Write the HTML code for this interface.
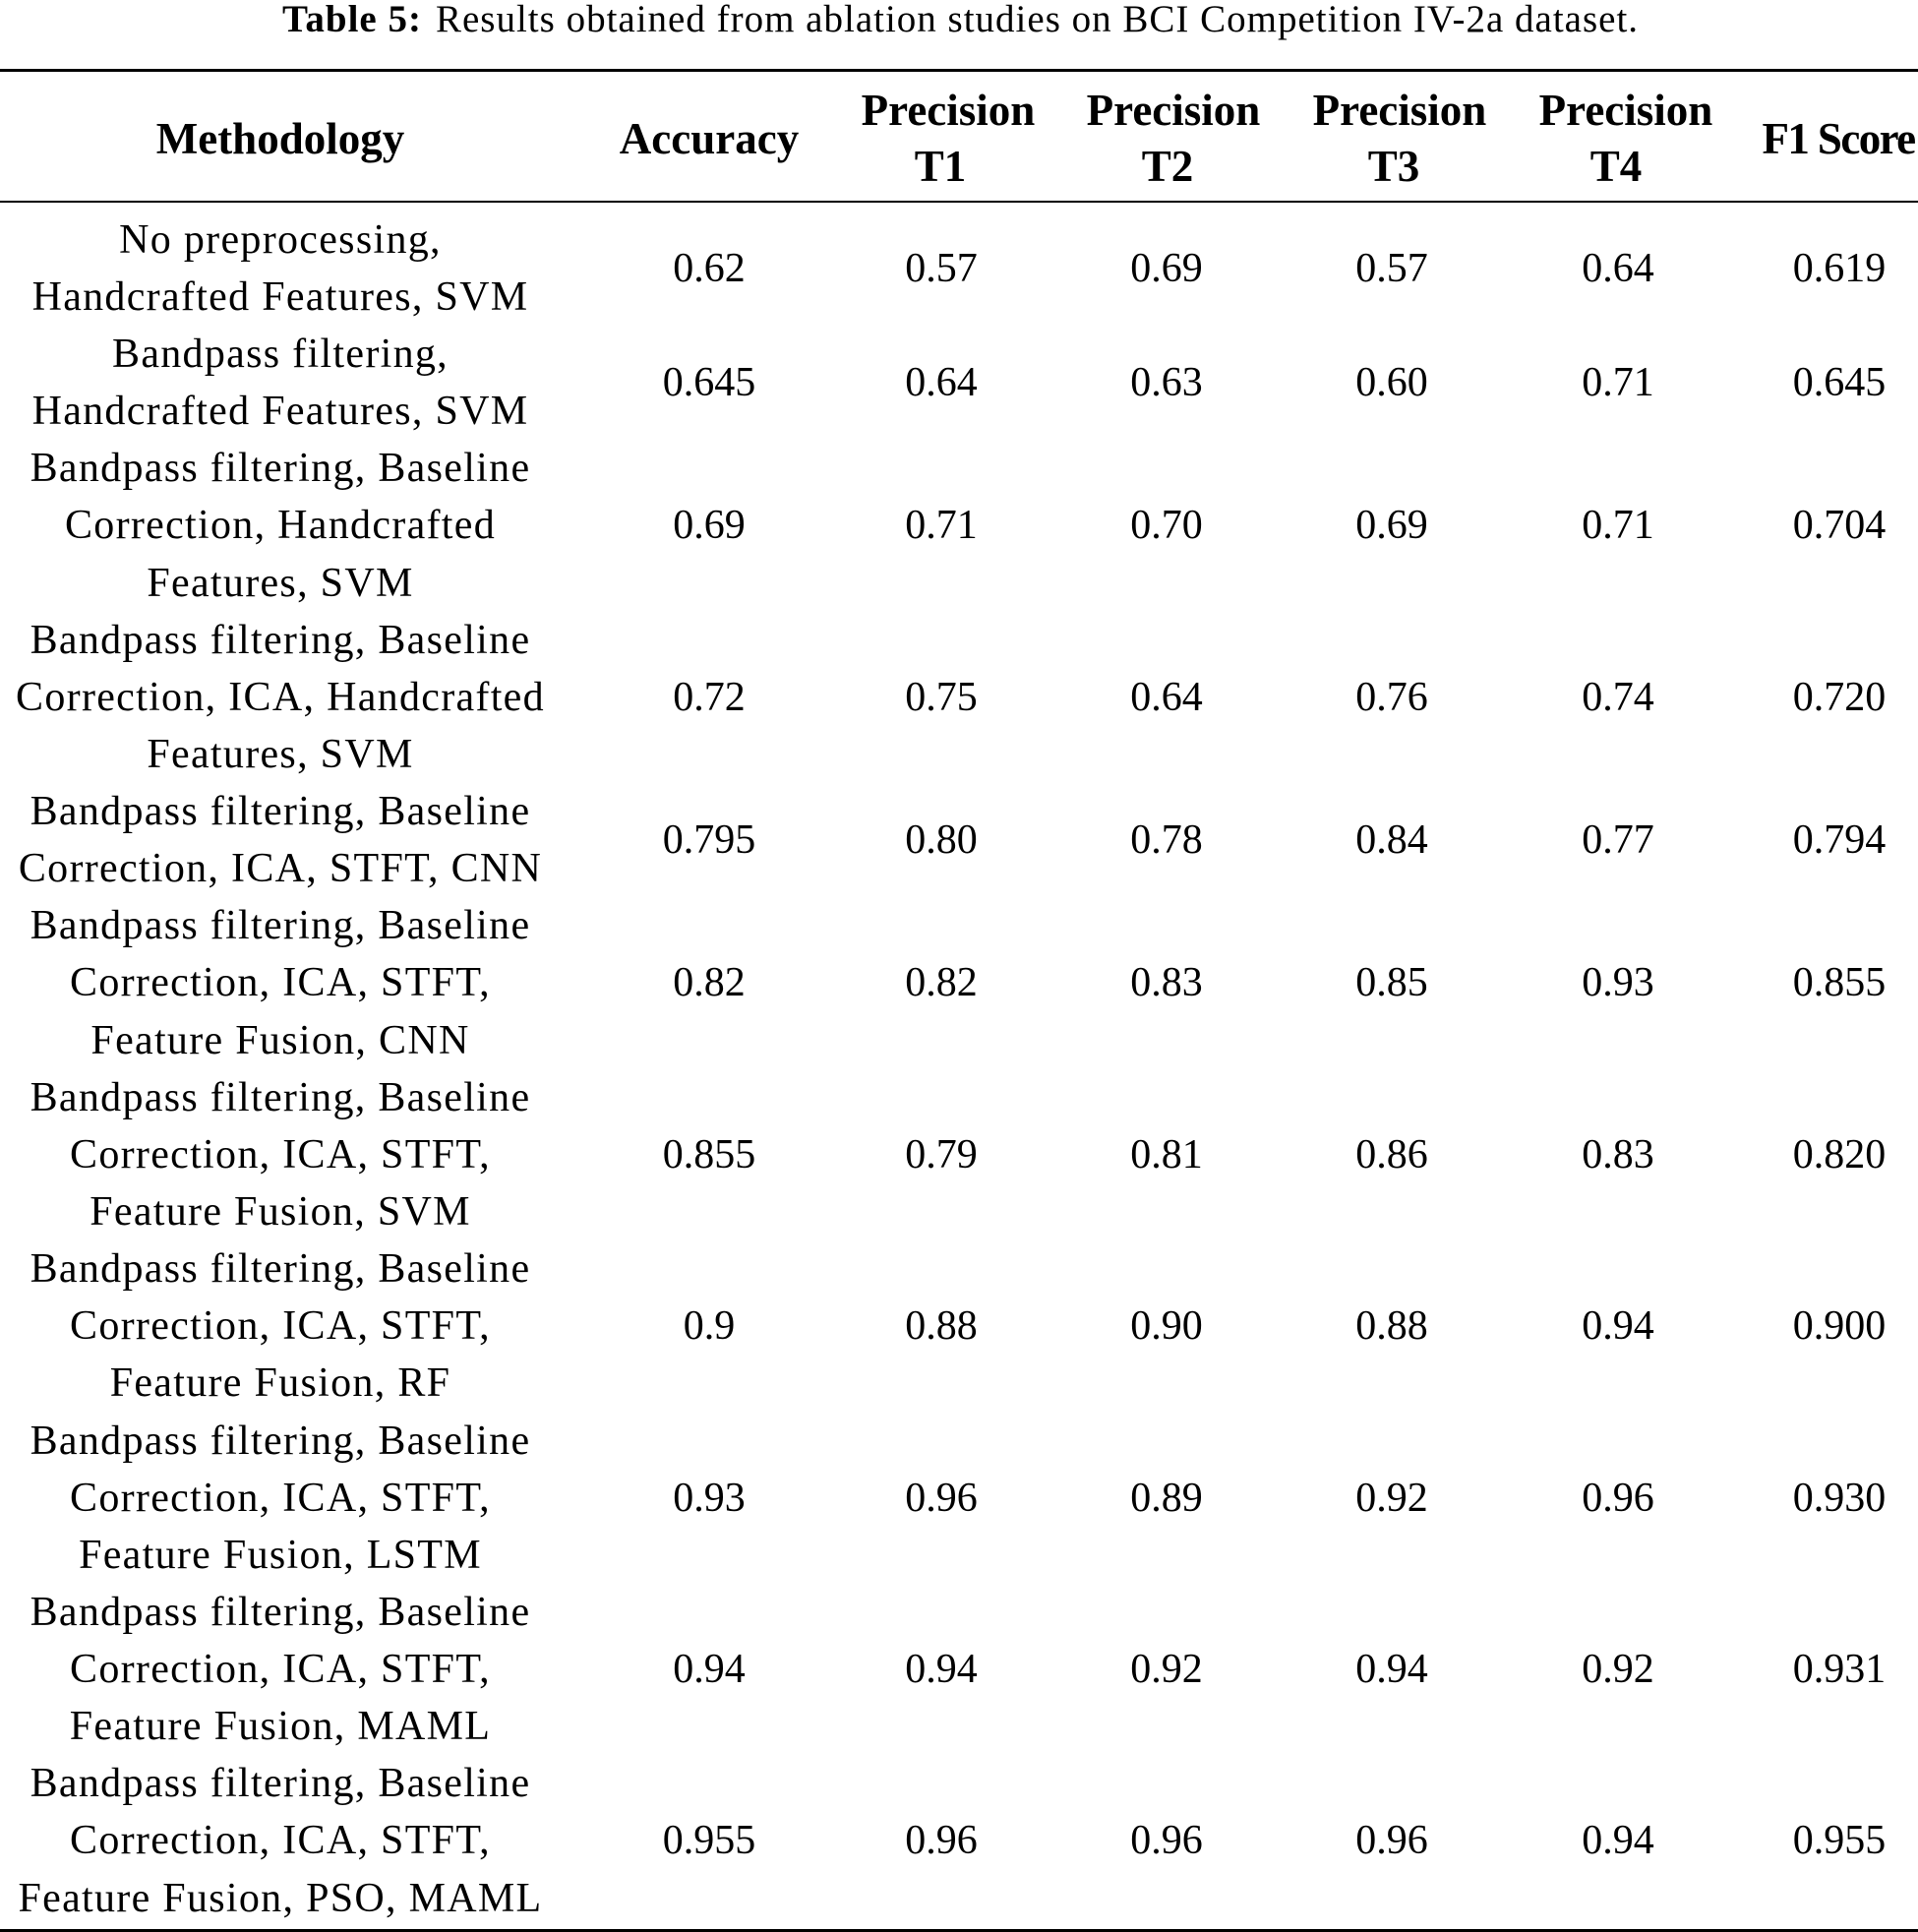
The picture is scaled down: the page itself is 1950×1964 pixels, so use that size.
<!DOCTYPE html>
<html>
<head>
<meta charset="utf-8">
<style>
  html, body { margin:0; padding:0; background:#fff; }
  body { width:1950px; height:1964px; position:relative; overflow:hidden;
         font-family:"Liberation Serif", "DejaVu Serif", serif; color:#000; }
  .title { position:absolute; left:0; width:1953px; top:0px; height:40px; line-height:40px;
           font-size:39px; text-align:center; white-space:nowrap; letter-spacing:1.0px; }
  .title b { margin-right:14px; }
  .rule { position:absolute; left:0; width:1950px; background:#000; height:2.5px; }
  .h { position:absolute; font-weight:bold; font-size:45px; line-height:57px; height:57px;
       text-align:center; white-space:nowrap; width:400px; }
  .row { position:absolute; left:0; width:1950px; }
  .m { position:absolute; left:-15px; width:600px; top:0; text-align:center;
       font-size:42px; line-height:58.13px; white-space:nowrap; letter-spacing:1.3px; }
  .v { position:absolute; top:0; width:300px; text-align:center; font-size:42px; white-space:nowrap; }
  .r2 .v { line-height:116.26px; }
  .r3 .v { line-height:174.39px; }
  .c1 { left:571px; }
  .c2 { left:807px; }
  .c3 { left:1036px; }
  .c4 { left:1265px; }
  .c5 { left:1495px; }
  .c6 { left:1720px; }
</style>
</head>
<body>

<div class="title"><b>Table 5:</b>Results obtained from ablation studies on BCI Competition IV-2a dataset.</div>

<div class="rule" style="top:70.3px;"></div>

<!-- header -->
<div class="h" style="left:85px; top:112.5px;">Methodology</div>
<div class="h" style="left:521px; top:112.5px;">Accuracy</div>
<div class="h" style="left:764px; top:83.5px;">Precision</div>
<div class="h" style="left:756px; top:140.5px;">T1</div>
<div class="h" style="left:993px; top:83.5px;">Precision</div>
<div class="h" style="left:987px; top:140.5px;">T2</div>
<div class="h" style="left:1223px; top:83.5px;">Precision</div>
<div class="h" style="left:1217px; top:140.5px;">T3</div>
<div class="h" style="left:1453px; top:83.5px;">Precision</div>
<div class="h" style="left:1443px; top:140.5px;">T4</div>
<div class="h" style="left:1669px; top:112.5px; letter-spacing:-1.6px;">F1 Score</div>

<div class="rule" style="top:203.8px;"></div>

<!-- rows -->
<div class="row r2" style="top:214.8px; height:116.26px;">
  <div class="m">No preprocessing,<br>Handcrafted Features, SVM</div>
  <div class="v c1">0.62</div>
  <div class="v c2">0.57</div>
  <div class="v c3">0.69</div>
  <div class="v c4">0.57</div>
  <div class="v c5">0.64</div>
  <div class="v c6">0.619</div>
</div>

<div class="row r2" style="top:331.06px; height:116.26px;">
  <div class="m">Bandpass filtering,<br>Handcrafted Features, SVM</div>
  <div class="v c1">0.645</div>
  <div class="v c2">0.64</div>
  <div class="v c3">0.63</div>
  <div class="v c4">0.60</div>
  <div class="v c5">0.71</div>
  <div class="v c6">0.645</div>
</div>

<div class="row r3" style="top:447.32px; height:174.39px;">
  <div class="m">Bandpass filtering, Baseline<br>Correction, Handcrafted<br>Features, SVM</div>
  <div class="v c1">0.69</div>
  <div class="v c2">0.71</div>
  <div class="v c3">0.70</div>
  <div class="v c4">0.69</div>
  <div class="v c5">0.71</div>
  <div class="v c6">0.704</div>
</div>

<div class="row r3" style="top:621.71px; height:174.39px;">
  <div class="m">Bandpass filtering, Baseline<br>Correction, ICA, Handcrafted<br>Features, SVM</div>
  <div class="v c1">0.72</div>
  <div class="v c2">0.75</div>
  <div class="v c3">0.64</div>
  <div class="v c4">0.76</div>
  <div class="v c5">0.74</div>
  <div class="v c6">0.720</div>
</div>

<div class="row r2" style="top:796.1px; height:116.26px;">
  <div class="m">Bandpass filtering, Baseline<br>Correction, ICA, STFT, CNN</div>
  <div class="v c1">0.795</div>
  <div class="v c2">0.80</div>
  <div class="v c3">0.78</div>
  <div class="v c4">0.84</div>
  <div class="v c5">0.77</div>
  <div class="v c6">0.794</div>
</div>

<div class="row r3" style="top:912.36px; height:174.39px;">
  <div class="m">Bandpass filtering, Baseline<br>Correction, ICA, STFT,<br>Feature Fusion, CNN</div>
  <div class="v c1">0.82</div>
  <div class="v c2">0.82</div>
  <div class="v c3">0.83</div>
  <div class="v c4">0.85</div>
  <div class="v c5">0.93</div>
  <div class="v c6">0.855</div>
</div>

<div class="row r3" style="top:1086.75px; height:174.39px;">
  <div class="m">Bandpass filtering, Baseline<br>Correction, ICA, STFT,<br>Feature Fusion, SVM</div>
  <div class="v c1">0.855</div>
  <div class="v c2">0.79</div>
  <div class="v c3">0.81</div>
  <div class="v c4">0.86</div>
  <div class="v c5">0.83</div>
  <div class="v c6">0.820</div>
</div>

<div class="row r3" style="top:1261.14px; height:174.39px;">
  <div class="m">Bandpass filtering, Baseline<br>Correction, ICA, STFT,<br>Feature Fusion, RF</div>
  <div class="v c1">0.9</div>
  <div class="v c2">0.88</div>
  <div class="v c3">0.90</div>
  <div class="v c4">0.88</div>
  <div class="v c5">0.94</div>
  <div class="v c6">0.900</div>
</div>

<div class="row r3" style="top:1435.53px; height:174.39px;">
  <div class="m">Bandpass filtering, Baseline<br>Correction, ICA, STFT,<br>Feature Fusion, LSTM</div>
  <div class="v c1">0.93</div>
  <div class="v c2">0.96</div>
  <div class="v c3">0.89</div>
  <div class="v c4">0.92</div>
  <div class="v c5">0.96</div>
  <div class="v c6">0.930</div>
</div>

<div class="row r3" style="top:1609.92px; height:174.39px;">
  <div class="m">Bandpass filtering, Baseline<br>Correction, ICA, STFT,<br>Feature Fusion, MAML</div>
  <div class="v c1">0.94</div>
  <div class="v c2">0.94</div>
  <div class="v c3">0.92</div>
  <div class="v c4">0.94</div>
  <div class="v c5">0.92</div>
  <div class="v c6">0.931</div>
</div>

<div class="row r3" style="top:1784.31px; height:174.39px;">
  <div class="m">Bandpass filtering, Baseline<br>Correction, ICA, STFT,<br>Feature Fusion, PSO, MAML</div>
  <div class="v c1">0.955</div>
  <div class="v c2">0.96</div>
  <div class="v c3">0.96</div>
  <div class="v c4">0.96</div>
  <div class="v c5">0.94</div>
  <div class="v c6">0.955</div>
</div>

<div class="rule" style="top:1961px;"></div>

</body>
</html>
